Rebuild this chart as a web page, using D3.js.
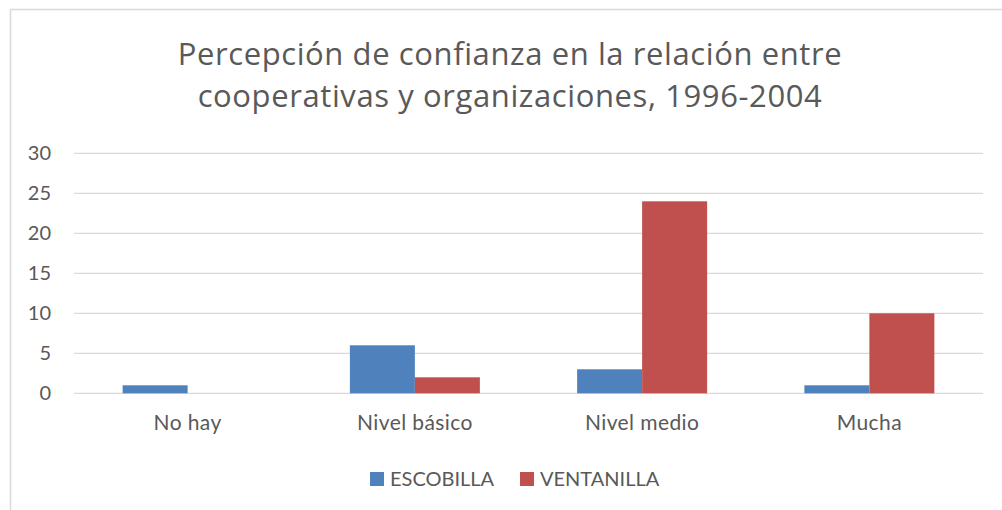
<!DOCTYPE html>
<html>
<head>
<meta charset="utf-8">
<script src="https://cdn.jsdelivr.net/npm/d3@7"></script>
<style>
  body { margin: 0; background: #fff; }
  text { font-family: Lato, "Open Sans", sans-serif; fill: #595959; }
</style>
</head>
<body>
<script>
// chart data
const categories = ["No hay", "Nivel básico", "Nivel medio", "Mucha"];
const seriesNames = ["ESCOBILLA", "VENTANILLA"];
const escobilla = [1, 6, 3, 1];
const ventanilla = [0, 2, 24, 10];
const yTicks = [0, 5, 10, 15, 20, 25, 30];
const titleLines = ["Percepción de confianza en la relación entre",
                    "cooperativas y organizaciones, 1996-2004"];
const colors = ["#4F81BD", "#C0504D"];

const W = 1002, H = 510;

const svg = d3.select("body").append("svg")
    .attr("width", W)
    .attr("height", H);

// chart border (left and top only show in the picture)
svg.append("path")
    .attr("d", "M10.5," + H + "V9.5H" + W)
    .attr("fill", "none")
    .attr("stroke", "#d9d9d9")
    .attr("stroke-width", 1.5);

// title
svg.append("g").selectAll("text")
    .data(titleLines)
    .enter().append("text")
    .attr("x", 510)
    .attr("y", function(d, i) { return 65 + i * 42; })
    .attr("text-anchor", "middle")
    .style("font-family", "'Open Sans', Lato, sans-serif")
    .attr("font-size", 31)
    .attr("letter-spacing", 0.6)
    .text(function(d) { return d; });

// scales
const x0 = d3.scaleBand()
    .domain(categories)
    .range([74, 983])
    .paddingInner(0.428)
    .paddingOuter(0.214);

const x1 = d3.scaleBand()
    .domain(seriesNames)
    .range([0, x0.bandwidth()]);

const y = d3.scaleLinear()
    .domain([0, 30])
    .range([393.3, 153.3]);

// gridlines
svg.append("g").selectAll("line")
    .data(yTicks)
    .enter().append("line")
    .attr("x1", 74)
    .attr("x2", 983)
    .attr("y1", function(d) { return y(d); })
    .attr("y2", function(d) { return y(d); })
    .attr("stroke", "#d9d9d9")
    .attr("stroke-width", 1.3);

// y axis labels
const yAxis = svg.append("g")
    .attr("transform", "translate(51,0)")
    .call(d3.axisLeft(y).tickValues(yTicks).tickSize(0).tickPadding(0));
yAxis.select(".domain").remove();
yAxis.selectAll("text")
    .attr("font-size", 20)
    .attr("font-family", null)
    .attr("fill", null);

// bars
const rows = categories.map(function(c, i) {
    return { cat: c, values: [escobilla[i], ventanilla[i]] };
});

const groups = svg.append("g").selectAll("g")
    .data(rows)
    .enter().append("g")
    .attr("transform", function(d) { return "translate(" + x0(d.cat) + ",0)"; });

groups.selectAll("rect")
    .data(function(d) {
        return d.values.map(function(v, j) { return { name: seriesNames[j], value: v, idx: j }; });
    })
    .enter().append("rect")
    .attr("x", function(d) { return x1(d.name); })
    .attr("y", function(d) { return y(d.value); })
    .attr("width", x1.bandwidth())
    .attr("height", function(d) { return y(0) - y(d.value); })
    .attr("fill", function(d) { return colors[d.idx]; });

// category labels
const xAxis = svg.append("g")
    .attr("transform", "translate(0,393.3)")
    .call(d3.axisBottom(x0).tickSize(0).tickPadding(0));
xAxis.select(".domain").remove();
xAxis.selectAll("text")
    .attr("font-size", 21)
    .attr("letter-spacing", 0.4)
    .attr("font-family", null)
    .attr("fill", null)
    .attr("dy", null)
    .attr("y", 37);

// legend
const legendX = [370, 520];
const legend = svg.append("g").selectAll("g")
    .data(seriesNames)
    .enter().append("g")
    .attr("transform", function(d, i) { return "translate(" + legendX[i] + ",472)"; });

legend.append("rect")
    .attr("width", 14)
    .attr("height", 14)
    .attr("fill", function(d, i) { return colors[i]; });

legend.append("text")
    .attr("x", 20)
    .attr("y", 14)
    .attr("font-size", 20)
    .text(function(d) { return d; });
</script>
</body>
</html>
